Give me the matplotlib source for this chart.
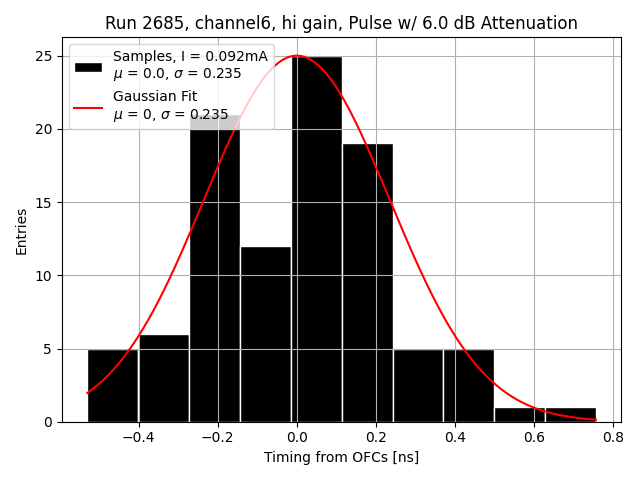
import numpy as np
import matplotlib
matplotlib.use("Agg")
import matplotlib.pyplot as plt

# Istogramma dei tempi (conteggi)
bin_left = -0.530
bin_right = 0.757
conteggi = [5, 6, 21, 12, 25, 19, 5, 5, 1, 1]

# Parametri del fit gaussiano
mu = 0.0
sigma = 0.235
ampiezza = 25.0

bordi = np.linspace(bin_left, bin_right, len(conteggi) + 1)
larghezza = bordi[1] - bordi[0]

fig, ax = plt.subplots(figsize=(6.4, 4.8), dpi=100)
barre = ax.bar(bordi[:-1], conteggi, width=larghezza, align="edge", color="black",
               edgecolor="white", linewidth=1,
               label="Samples, I = 0.092mA\n$\\mu$ = 0.0, $\\sigma$ = 0.235")

x = np.linspace(bin_left, bin_right, 200)
y = ampiezza * np.exp(-(x - mu) ** 2 / (2 * sigma ** 2))
linea, = ax.plot(x, y, color="red", label="Gaussian Fit\n$\\mu$ = 0, $\\sigma$ = 0.235")

ax.grid(True)
ax.set_title("Run 2685, channel6, hi gain, Pulse w/ 6.0 dB Attenuation")
ax.set_xlabel("Timing from OFCs [ns]")
ax.set_ylabel("Entries")
ax.legend(handles=[barre, linea], loc="upper left")
fig.tight_layout()
fig.savefig("out.png")
